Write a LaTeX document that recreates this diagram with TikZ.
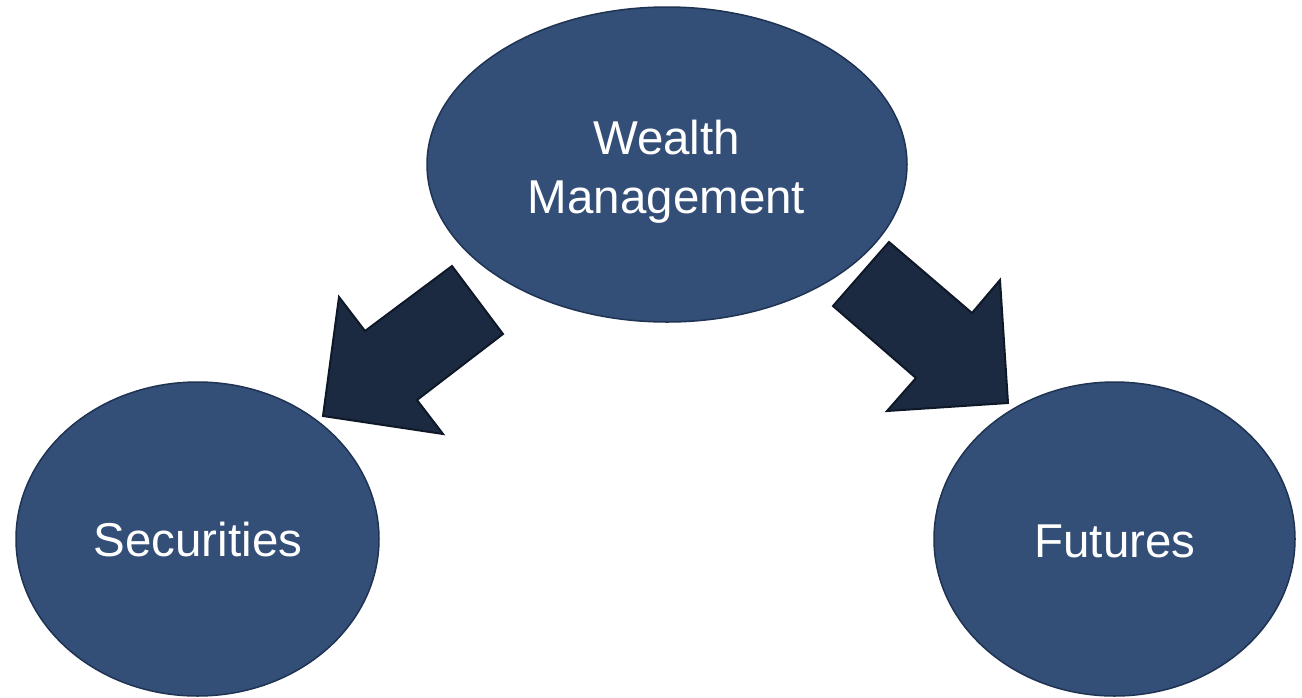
\documentclass[tikz,border=0pt]{standalone}
\usepackage{fontspec}
\setmainfont{Liberation Sans}
\usetikzlibrary{shapes.geometric}
\definecolor{ellfill}{HTML}{334E77}
\definecolor{ellline}{HTML}{1F3352}
\definecolor{arrfill}{HTML}{1B2A41}
\definecolor{arrline}{HTML}{0E1828}
\tikzset{
  bubble/.style={ellipse, draw=ellline, line width=1.5pt, fill=ellfill, inner sep=0pt},
  blockarrow/.style={draw=arrline, line width=2pt, fill=arrfill, line join=miter},
  label text/.style={text=white, font=\fontsize{47.5}{59}\selectfont, align=center, inner sep=0pt}
}
\begin{document}
\begin{tikzpicture}[x=1pt, y=-1pt]
\useasboundingbox (0,0) rectangle (1302,697);
% ellipses
\node[bubble, minimum width=480pt, minimum height=315pt] (wm) at (667,164.5) {};
\node[bubble, minimum width=363pt, minimum height=314pt] (sec) at (197.5,539) {};
\node[bubble, minimum width=361pt, minimum height=314pt] (fut) at (1114.5,539) {};
% texts
\node[label text, anchor=base] (wmt1) at (666.5,154) {Wealth};
\node[label text, anchor=base] (wmt2) at (666.5,213) {Management};
\node[label text, anchor=base] (sect) at (198,556) {Securities};
\node[label text, anchor=base] (futt) at (1115,557) {Futures};
% block arrows
\draw[blockarrow] (452,266) -- (503,334) -- (417,400) -- (443,434) -- (323,416) -- (339,297) -- (365,331) -- cycle;
\draw[blockarrow] (889,242) -- (833,306) -- (916,378) -- (887,411) -- (1008,403) -- (1000,280) -- (972,313) -- cycle;
\end{tikzpicture}
\end{document}
